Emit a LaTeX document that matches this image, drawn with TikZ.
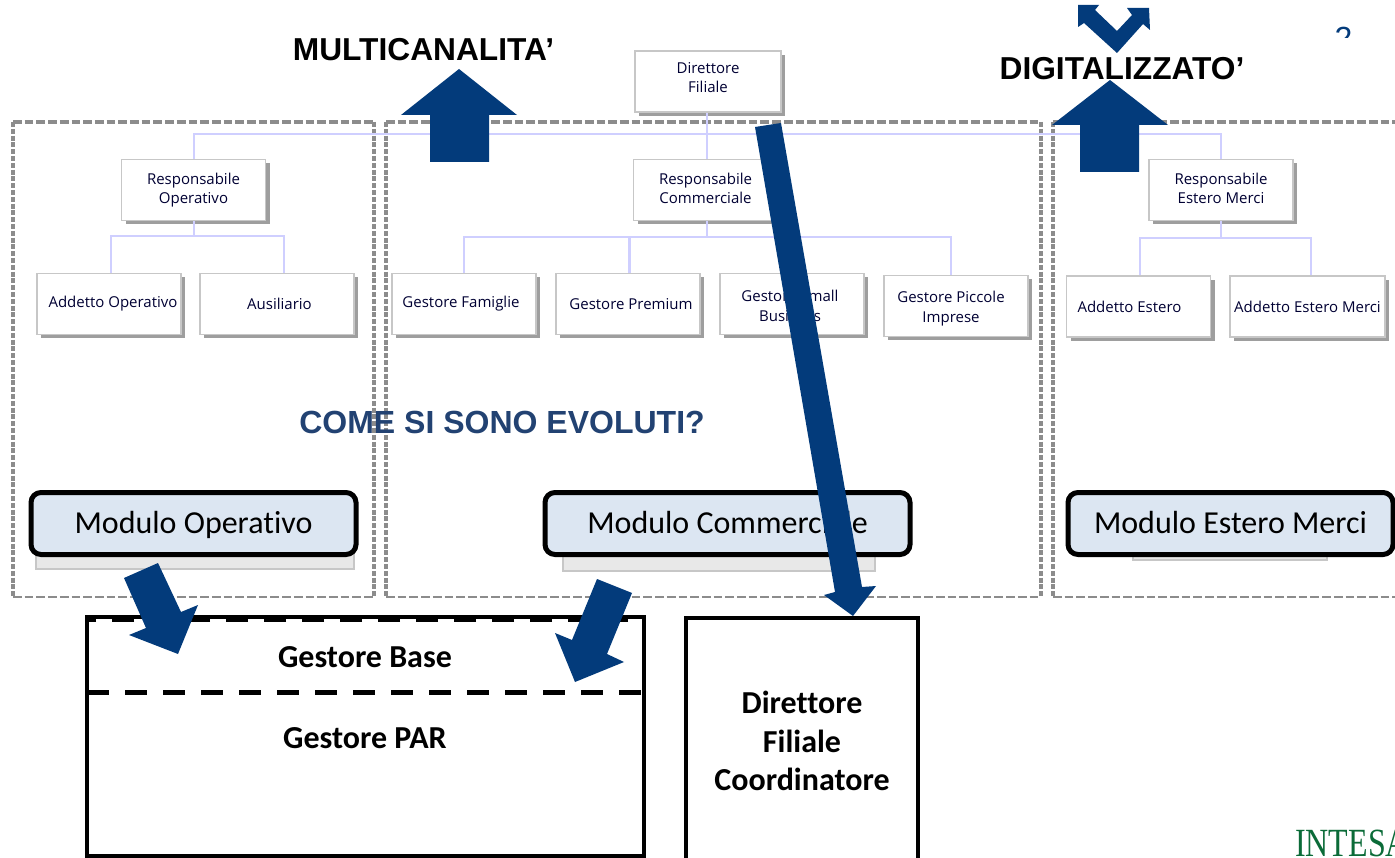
\documentclass[tikz,border=0pt]{standalone}
\usepackage{fontspec}
\usepackage{xcolor}
\usetikzlibrary{positioning,shadows}
\newfontfamily\orgfont{Open Sans}
\newfontfamily\modfont[Ligatures=NoCommon]{Carlito}
\newfontfamily\headfont{Liberation Sans}
\newfontfamily\logofont{Liberation Serif}
\definecolor{arrowblue}{HTML}{033B7B}
\definecolor{orgblue}{HTML}{CFCFFF}
\definecolor{regiongray}{HTML}{8C8C8C}
\definecolor{modfill}{HTML}{DCE6F2}
\definecolor{asktitle}{HTML}{224272}
\definecolor{logogreen}{HTML}{0B6B38}
\tikzset{
  orgbox/.style={rectangle,draw=black!22,line width=1.8pt,fill=white,minimum width=144pt,minimum height=61pt,
    inner sep=0pt,align=center,text=black!80!blue,font=\orgfont\fontsize{15}{19}\selectfont,
    drop shadow={shadow xshift=4pt,shadow yshift=-4pt,fill=black!38,opacity=1}},
  orgline/.style={draw=orgblue,line width=2.2pt},
  regh/.style={draw=regiongray,line width=4pt,dash pattern=on 8.7pt off 3pt},
  regb/.style={draw=regiongray,line width=2.8pt,dash pattern=on 8.7pt off 3pt},
  regv/.style={draw=regiongray,line width=4pt,dash pattern=on 5pt off 1.8pt},
  modbox/.style={rectangle,rounded corners=10pt,draw=black,line width=5pt,fill=modfill,minimum height=62pt,
    inner sep=0pt,text height=26pt,text depth=7pt,font=\modfont\fontsize{32}{38}\selectfont},
  modback/.style={rectangle,fill=black!9,draw=black!22,line width=1.5pt},
  rolebox/.style={rectangle,draw=black,line width=4.6pt,inner sep=0pt},
  roletext/.style={align=center,font=\modfont\bfseries\fontsize{32}{38.5}\selectfont},
  headtext/.style={font=\headfont\bfseries\fontsize{31.7}{38}\selectfont},
  bigarrow/.style={fill=arrowblue,draw=none}
}
\begin{document}
\begin{tikzpicture}[x=1pt,y=-1pt,node distance=164pt]
  \useasboundingbox (0,0) rectangle (1395,858);
  \fill[white] (0,0) rectangle (1395,858);
  \clip (0,0) rectangle (1395,858);

  % dashed regions
  \foreach \xa/\xb in {13/374,386/1041}{
    \draw[regh] (\xa,122) -- (\xb,122);
    \draw[regb] (\xa,597) -- (\xb,597);
    \draw[regv] (\xa,122) -- (\xa,597);
    \draw[regv] (\xb,122) -- (\xb,597);
  }
  \draw[regh] (1053,122) -- (1395,122);
  \draw[regb] (1053,597) -- (1395,597);
  \draw[regv] (1053,122) -- (1053,597);

  % org chart
  \coordinate (bus) at (707,134);
  \coordinate (busop) at (194,236);
  \coordinate (buscom) at (707,237);
  \coordinate (busest) at (1221,238);

  \node (dirf) [orgbox,minimum width=146pt,text depth=9pt] at (708,81.5) {Direttore\\Filiale};
  \node (respo) [orgbox] at (193.5,190) {Responsabile\\Operativo};
  \node (respc) [orgbox,text depth=3pt] at (705.5,190) {Responsabile\\Commerciale};
  \node (respe) [orgbox,text depth=3pt] at (1221,190) {Responsabile\\Estero Merci};

  \node (addop) [orgbox] at (109,304) {\hspace*{8pt}Addetto Operativo};
  \node (ausil) [orgbox,minimum width=154pt] at (277,304) {\hspace*{5pt}Ausiliario};

  \node (famig) [orgbox] at (464,304) {\hspace*{-6pt}Gestore Famiglie};
  \node (prem) [orgbox,right of=famig] {\hspace*{6pt}Gestore Premium};
  \node (small) [orgbox,right of=prem,text height=36pt] {\hspace*{-4pt}Gestore Small\\[1pt]\hspace*{-4pt}Business};
  \node (picc) [orgbox,right of=small,yshift=-2pt,text height=36pt] {\hspace*{-10pt}Gestore Piccole\\[1pt]\hspace*{-10pt}Imprese};

  \node (addes) [orgbox] at (1138.5,306.5) {\hspace*{-18pt}Addetto Estero};
  \node (addem) [orgbox,minimum width=155pt] at (1307.5,306.5) {Addetto Estero Merci};

  \draw[orgline] (bus |- dirf.south) -- (bus |- respc.north);
  \draw[orgline] (busop |- respo.north) |- (bus) -| (busest |- respe.north);
  \draw[orgline] (busop |- respo.south) -- (busop);
  \draw[orgline] (buscom |- respc.south) -- (buscom);
  \draw[orgline] (busest |- respe.south) -- (busest);
  \draw[orgline] (busop) -| ([xshift=2pt]addop.north);
  \draw[orgline] (busop) -| ([xshift=7pt]ausil.north);
  \draw[orgline] (buscom) -| (famig.north);
  \draw[orgline] (buscom) -| ([xshift=1.5pt]prem.north);
  \draw[orgline] (buscom) -| (small.north);
  \draw[orgline] (buscom) -| ([xshift=-5pt]picc.north);
  \draw[orgline] (busest) -| ([xshift=1.5pt]addes.north);
  \draw[orgline] (busest) -| ([xshift=3.5pt]addem.north);

  % modules
  \node (backop) [modback,minimum width=318pt,minimum height=24pt] at (195,557) {};
  \node (backcom) [modback,minimum width=312pt,minimum height=24pt] at (719,559) {};
  \node (backest) [modback,minimum width=194pt,minimum height=10pt] at (1230,555) {};
  \node (modop) [modbox,minimum width=325pt] at (193.5,523.5) {Modulo Operativo};
  \node (modcom) [modbox,minimum width=365pt] at (727.5,523.5) {Modulo Commerciale};
  \node (modest) [modbox,minimum width=325pt] at (1230.5,523.5) {Modulo Estero Merci};

  % roles below
  \node (gbase) [rectangle,draw=black,line width=4.6pt,fill=white,dash pattern=on 22pt off 16pt,
    minimum width=557pt,minimum height=73pt,inner sep=0pt] at (365.5,656) {};
  \node (gpar) [rolebox,minimum width=557pt,minimum height=239pt] at (365.5,736.5) {};
  \node (tbase) [roletext] at (365,657) {Gestore Base};
  \node (tpar) [roletext] at (365,738) {Gestore PAR};
  \node (dircoord) [rolebox,minimum width=232pt,minimum height=250pt] at (802,743) {};
  \node (tcoord) [roletext] at (802,741) {Direttore\\Filiale\\Coordinatore};

  % titles
  \node (multi) [headtext] at (423.5,50) {MULTICANALITA’};
  \node (digi) [headtext] at (1122,69) {DIGITALIZZATO’};
  \node (ask) [headtext,text=asktitle,font=\headfont\bfseries\fontsize{32}{38}\selectfont] at (502,422) {COME SI SONO EVOLUTI?};

  % arrows
  \fill[bigarrow] (459,69) -- (517,115) -- (489,115) -- (489,162) -- (430,162) -- (430,115) -- (401,115) -- cycle;
  \fill[bigarrow] (1110,80) -- (1168,125) -- (1139,125) -- (1139,172) -- (1080,172) -- (1080,125) -- (1052,125) -- cycle;
  \fill[bigarrow] (1078,5) -- (1099,5) -- (1095,10) -- (1117,31) -- (1132,15) -- (1127,8) -- (1149,8) -- (1150,30)
    -- (1143,24) -- (1117,53) -- (1084,23) -- (1078,27) -- cycle;
  \fill[bigarrow] (755,127) -- (781,123) -- (862,587) -- (876,586) -- (853,616) -- (824,595) -- (835,592) -- cycle;
  \fill[bigarrow] (158,563) -- (124,578) -- (146,628) -- (129,635) -- (178,654) -- (198,605) -- (181,612) -- cycle;
  \fill[bigarrow] (597,579) -- (632,593) -- (607,654) -- (624,662) -- (575,682) -- (555,633) -- (572,640) -- cycle;

  % corner bits
  \begin{scope}
    \clip (1325,27) rectangle (1360,38);
    \node (pageno) [text=arrowblue,font=\headfont\fontsize{32}{36}\selectfont,anchor=base] at (1343.5,50) {2};
  \end{scope}
  \node (logo) [anchor=base west,inner sep=0pt,xscale=.8,transform shape,text=logogreen,
    font=\logofont\fontsize{40}{44}\selectfont] at (1295,856) {INTESA};
\end{tikzpicture}
\end{document}
